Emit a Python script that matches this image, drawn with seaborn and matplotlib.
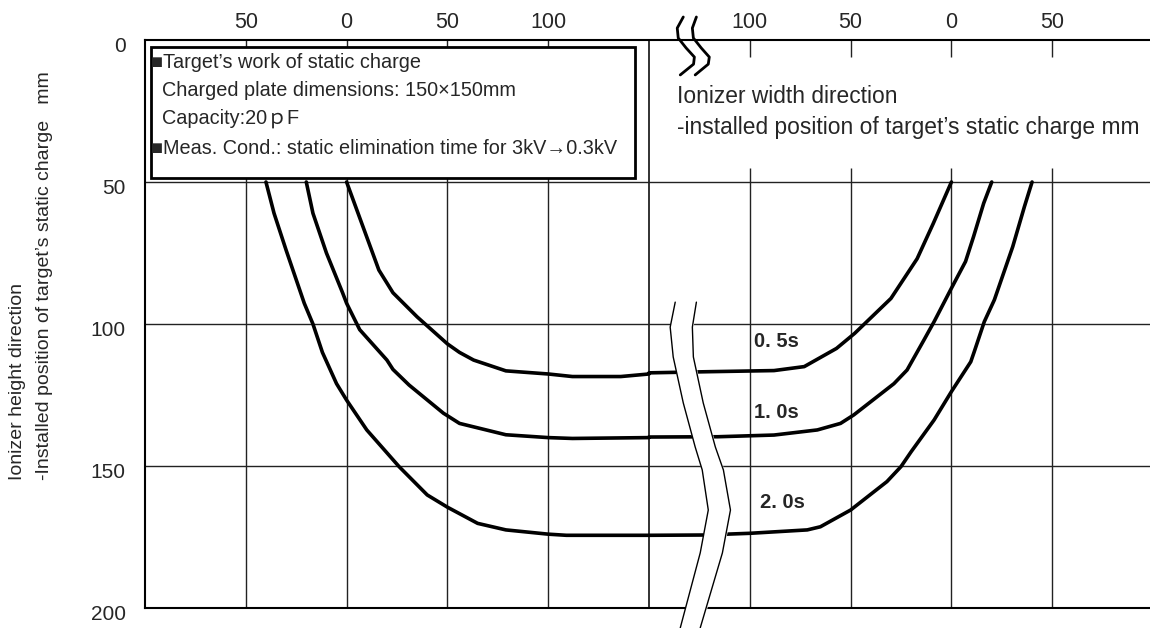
import numpy as np
import pandas as pd
import matplotlib
matplotlib.use("Agg")
import matplotlib.pyplot as plt
import matplotlib.patches as mpatches
import matplotlib.transforms as mtransforms
import seaborn as sns

# --- Data ---
# left side: position in mm (negative = outside the ionizer end), right side: mm measured from the right end
series = ["0. 5s", "1. 0s", "2. 0s"]

x_left_05 = [0, 16, 23, 35, 50, 56, 63, 79, 100, 112, 136, 150]
y_left_05 = [50, 81, 89, 97.5, 107, 110, 112.7, 116.5, 117.6, 118.5, 118.5, 117.6]
x_right_05 = [150, 121, 88, 73, 57, 48, 30, 17, 9, 0]
y_right_05 = [117.2, 116.8, 116.4, 115, 108.6, 103.3, 91, 77, 64.6, 50]

x_left_10 = [-20, -16.7, -10, -2, 0, 6.5, 20, 23, 31, 48, 56, 79, 100, 112, 150]
y_left_10 = [50, 61, 75, 89, 92.7, 102, 112.7, 116, 121.5, 131.4, 135, 139, 140, 140.3, 140]
x_right_10 = [150, 116, 88, 66.5, 55, 48.4, 28.5, 22, 13.6, 8.6, 0, -7, -11, -16, -20]
y_right_10 = [139.8, 139.7, 139.1, 137.3, 135, 132, 121, 116.2, 105.6, 99.2, 87.4, 78, 69.2, 57.5, 50]

x_left_20 = [-40, -36, -30, -21, -16.7, -12, -5, 0, 10, 26, 40, 50, 65, 79, 100, 109, 150]
y_left_20 = [50, 61, 74, 92.7, 100, 110, 121, 126.8, 137.3, 150.2, 160.2, 164.5, 170.2, 172.5, 174, 174.4, 174.4]
x_right_20 = [150, 123, 100, 71.5, 65, 50, 32, 25, 20, 8.6, 0, -9.6, -11.3, -16.3, -21.3, -30.4, -36.2, -40]
y_right_20 = [174.4, 174.3, 173.7, 172.5, 171.4, 165.5, 155.5, 150.2, 145, 133.8, 123.8, 113.3, 109.8, 99.2, 91.5, 72.8, 58.7, 50]

x_ticks_left = [-50, 0, 50, 100]
x_ticks_right = [100, 50, 0, -50]
y_ticks = [0, 50, 100, 150, 200]

label_pos = [(213, 106), (213, 131), (216, 163)]

box_lines = ["\u25a0Target\u2019s work of static charge",
             "  Charged plate dimensions: 150\u00d7150mm",
             "  Capacity:20\uff50F",
             "\u25a0Meas. Cond.: static elimination time for 3kV\u21920.3kV"]

# break marks (axis units)
brk_y = [92.3, 101.1, 111.6, 127.8, 143.3, 151.4, 165.5, 180.6, 207.0]
brk_l = [163.0, 160.5, 162.0, 167.0, 172.9, 176.4, 179.4, 175.4, 165.5]
brk_r = [173.5, 171.5, 172.0, 176.9, 182.9, 186.9, 190.4, 186.4, 175.4]
top_brk_y = [-8.1, -4.2, -0.7, 2.8, 6.0, 8.5, 12.3]
top_brk_l = [167.0, 164.0, 164.5, 168.4, 172.5, 172.1, 165.5]
top_brk_r = [173.5, 171.5, 172.0, 175.9, 179.9, 179.4, 172.9]

BREAK = 150          # the break line: left 150 mm == right 150 mm
RIGHT0 = 300         # right-side "0" in axis units


def to_axis(xl, yl, xr, yr):
    u = list(xl) + [RIGHT0 - v for v in xr]
    return u, list(yl) + list(yr)


rows = []
for name, xl, yl, xr, yr in [(series[0], x_left_05, y_left_05, x_right_05, y_right_05),
                             (series[1], x_left_10, y_left_10, x_right_10, y_right_10),
                             (series[2], x_left_20, y_left_20, x_right_20, y_right_20)]:
    u, h = to_axis(xl, yl, xr, yr)
    rows.append(pd.DataFrame({"u": u, "h": h, "series": name}))
df = pd.concat(rows, ignore_index=True)

# --- Style ---
sns.set_theme(style="white")
plt.rcParams["font.family"] = ["Liberation Sans", "DejaVu Sans", "Noto Sans CJK JP"]

fig = plt.figure(figsize=(11.5, 6.28), dpi=100)
ax = fig.add_axes([145 / 1150, 20 / 628, 1005 / 1150, 568 / 628])
ax.set_xlim(-100, 398.5)
ax.set_ylim(200, 0)

# grid
grid_u = x_ticks_left + [RIGHT0 - v for v in x_ticks_right]
ax.vlines(grid_u, 50, 200, color="#222222", lw=1.0, zorder=1)
ax.vlines(grid_u, 45, 50, color="#222222", lw=1.0, zorder=1)
ax.axvline(BREAK, color="#222222", lw=1.3, zorder=1)
ax.hlines([50, 100, 150], -100, 398.5, color="#222222", lw=1.0, zorder=1)

sns.lineplot(data=df, x="u", y="h", hue="series", units="series", estimator=None,
             sort=False, palette=["black"] * 3, lw=2.6, legend=False, ax=ax, zorder=3)

for name, (lu, lh) in zip(series, label_pos):
    ax.text(lu, lh, name, ha="center", va="center", fontsize=14.5, fontweight="bold",
            family=["Liberation Sans Narrow", "Liberation Sans"], zorder=4)

# middle break strip
ax.fill_betweenx(brk_y, brk_l, brk_r, color="white", zorder=5, clip_on=False)
ax.plot(brk_l, brk_y, color="black", lw=1.0, zorder=6, clip_on=False)
ax.plot(brk_r, brk_y, color="black", lw=1.0, zorder=6, clip_on=False)
# top break symbol
ax.plot(top_brk_l, top_brk_y, color="black", lw=2.0, zorder=6, clip_on=False)
ax.plot(top_brk_r, top_brk_y, color="black", lw=2.0, zorder=6, clip_on=False)

# condition box
ax.add_patch(mpatches.Rectangle((-96.9, 2.5), 240, 46.1, fill=True, fc="white",
                                ec="black", lw=2.0, zorder=4))
for i, line in enumerate(box_lines):
    ax.text(-96.9, [7.9, 17.8, 27.7, 38.2][i], line, ha="left", va="center",
            fontsize=14.3, zorder=5)

ax.text(164, 25.4, "Ionizer width direction\n-installed position of target\u2019s static charge mm",
        ha="left", va="center", fontsize=16.4, linespacing=1.42, zorder=5)

# axes / ticks
ax.xaxis.tick_top()
ax.set_xticks(grid_u)
ax.set_xticklabels([str(abs(v)) for v in x_ticks_left] + [str(abs(v)) for v in x_ticks_right])
ax.tick_params(axis="x", direction="in", length=12, width=1.0, color="#222222",
               labelsize=15.5, pad=5)
ax.set_yticks(y_ticks)
ax.set_yticklabels([str(v) for v in y_ticks])
ax.tick_params(axis="y", length=0, labelsize=15, pad=14)
shift = mtransforms.ScaledTranslation(0, -4 / 100, fig.dpi_scale_trans)
for lbl in ax.get_yticklabels():
    lbl.set_transform(lbl.get_transform() + shift)
ax.set_xlabel("")
ax.set_ylabel("")
for side in ["top", "left", "bottom"]:
    ax.spines[side].set_color("black")
    ax.spines[side].set_linewidth(1.5)
ax.spines["right"].set_visible(False)

fig.text(31 / 1150, (628 - 480) / 628,
         "Ionizer height direction\n-Installed position of target\u2019s static charge   mm",
         rotation=90, ha="center", va="bottom", multialignment="left",
         fontsize=14, linespacing=1.8)

fig.savefig("out.png", dpi=100)
